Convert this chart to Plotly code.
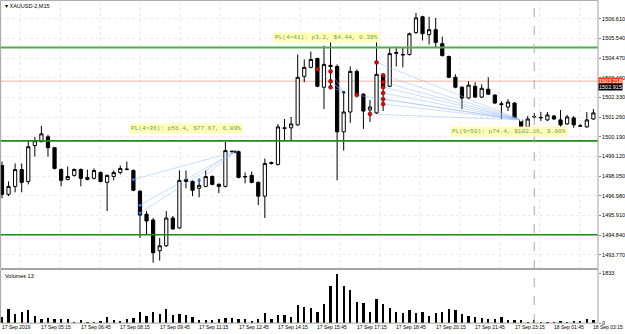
import plotly.graph_objects as go

# ---------------- data ----------------
bars = list(range(91))
opens = [1498.63,1497.06,1497.49,1498.41,1497.76,1499.71,1499.92,1500.19,1499.60,1498.41,
         1497.87,1498.09,1498.41,1497.87,1497.93,1498.25,1497.71,1498.03,1498.25,1498.41,
         1498.36,1497.23,1495.98,1495.66,1493.99,1494.26,1495.77,1495.23,1497.87,1497.76,
         1497.39,1497.49,1498.03,1497.60,1497.49,1499.38,1499.38,1498.03,1498.09,1497.71,
         1496.96,1498.79,1498.68,1500.68,1500.68,1500.84,1503.48,1503.97,1504.45,1502.89,
         1504.08,1504.02,1500.46,1501.54,1503.75,1502.51,1501.65,1501.49,1503.54,1502.94,
         1504.78,1504.67,1504.67,1505.86,1506.72,1505.75,1506.02,1505.26,1504.56,1503.43,
         1502.89,1502.30,1502.94,1502.35,1502.78,1502.46,1501.99,1501.81,1502.03,1501.11,
         1500.73,1501.27,1501.22,1501.11,1501.32,1501.11,1500.89,1501.22,1500.79,1500.73,
         1501.16]
highs = [1498.84,1497.76,1498.74,1498.74,1499.98,1500.19,1500.79,1500.30,1499.60,1498.47,
         1498.57,1498.47,1498.47,1498.41,1498.47,1498.30,1498.14,1498.36,1498.63,1498.84,
         1498.41,1497.28,1496.15,1495.77,1494.69,1496.15,1495.88,1498.36,1498.36,1497.82,
         1497.93,1498.36,1498.09,1497.66,1499.92,1499.44,1499.44,1498.25,1498.30,1497.76,
         1499.01,1498.84,1500.89,1501.16,1501.27,1504.67,1504.40,1504.83,1504.50,1505.15,
         1505.37,1504.13,1502.67,1504.02,1503.86,1502.57,1502.19,1505.75,1503.59,1505.05,
         1505.10,1505.05,1505.86,1506.93,1506.78,1506.72,1506.66,1505.64,1504.61,1503.59,
         1502.94,1503.21,1503.16,1503.05,1503.43,1502.51,1502.13,1502.24,1502.08,1501.16,
         1501.32,1501.49,1501.54,1501.54,1501.38,1501.65,1501.38,1501.32,1500.89,1501.54,
         1501.70]
lows = [1496.85,1496.96,1497.17,1497.17,1497.60,1499.11,1499.92,1499.11,1498.41,1497.49,
        1497.82,1498.03,1497.49,1497.82,1497.87,1497.71,1496.15,1497.82,1498.14,1498.36,
        1497.23,1494.69,1494.85,1493.34,1493.45,1494.20,1495.12,1495.18,1497.39,1496.96,
        1496.90,1497.44,1497.55,1497.12,1497.44,1499.28,1497.93,1497.66,1497.66,1496.47,
        1495.77,1498.68,1498.63,1499.98,1499.98,1500.79,1503.16,1503.92,1502.89,1501.70,
        1502.83,1497.82,1499.44,1500.95,1502.40,1500.62,1501.00,1501.43,1501.59,1502.89,
        1504.02,1503.97,1504.61,1505.80,1505.43,1505.21,1505.05,1504.56,1503.38,1502.83,
        1501.70,1502.24,1502.30,1502.30,1502.46,1501.97,1501.16,1501.59,1501.16,1500.68,
        1500.68,1501.16,1501.05,1501.05,1501.11,1500.68,1500.84,1500.68,1500.73,1500.68,
        1501.11]
closes = [1497.06,1497.49,1498.41,1497.71,1499.65,1499.98,1500.35,1499.60,1498.47,1497.82,
          1498.03,1498.41,1497.93,1497.98,1498.36,1497.76,1498.09,1498.25,1498.47,1498.43,
          1497.28,1495.93,1495.61,1493.88,1494.26,1495.77,1495.18,1497.82,1497.76,1497.28,
          1497.55,1498.03,1497.60,1497.49,1499.44,1499.40,1497.98,1498.01,1497.71,1496.96,
          1498.74,1498.74,1500.73,1500.65,1500.89,1503.43,1503.97,1504.40,1502.94,1504.13,
          1504.02,1500.46,1501.54,1503.75,1502.46,1501.59,1501.81,1503.59,1502.94,1504.72,
          1504.74,1504.65,1505.80,1506.66,1505.80,1506.02,1505.32,1504.61,1503.43,1502.89,
          1502.30,1503.00,1502.35,1502.83,1502.51,1502.03,1501.95,1502.08,1501.22,1500.73,
          1501.16,1501.29,1501.24,1501.38,1501.16,1500.84,1501.27,1500.84,1500.77,1501.11,
          1501.49]
volumes = [245,550,342,440,489,281,159,220,183,183,
           183,73,122,73,73,98,257,134,98,183,
           220,440,281,428,367,526,318,367,318,257,
           122,122,122,183,220,196,183,159,98,183,
           404,183,318,318,257,672,611,562,440,709,
           1383,1833,1406,1236,795,771,440,917,709,562,
           440,404,489,379,440,281,379,440,526,501,
           342,281,257,196,159,183,257,134,122,122,
           73,147,73,73,73,110,37,98,98,159,
           122]

price_ticks = [1506.61,1505.54,1504.47,1503.40,1502.33,1501.26,1500.19,
               1499.12,1498.05,1496.98,1495.91,1494.84,1493.77]
time_tick_bars = [0,6,12,18,24,30,36,42,48,54,60,66,72,78,84,90]
time_tick_labels = ["17 Sep 2019","17 Sep 05:15","17 Sep 06:45","17 Sep 08:15",
                    "17 Sep 09:45","17 Sep 11:15","17 Sep 12:45","17 Sep 14:15",
                    "17 Sep 15:45","17 Sep 17:15","17 Sep 18:45","17 Sep 20:15",
                    "17 Sep 21:45","17 Sep 23:15","18 Sep 01:45","18 Sep 03:15"]
green_levels = [1505.05, 1499.97, 1494.86]
ask_price = 1503.218
bid_price = 1502.915
vol_max = 1833
day_separator_bar = 81

# position fans: entries (bar, price) -> exit (bar, price)
fan1_entry_bars = [20, 21, 21, 30]
fan1_entry_prices = [1497.87, 1496.47, 1496.04, 1497.82]
fan1_exit = (35.5, 1499.38)
fan2_entry_bars = [48, 50, 50, 50]
fan2_entry_prices = [1503.86, 1503.75, 1503.21, 1502.89]
fan2_exit = (52, 1502.62)
fan3_entry_bars = [54, 56, 57, 58, 58, 58, 58, 58, 58]
fan3_entry_prices = [1502.46, 1501.43, 1504.24, 1503.54, 1503.16, 1502.89, 1502.57, 1502.24, 1501.97]
fan3_exit = (79, 1501.11)

pl_labels = ["PL(4>36): p56.4, $77.67, 6.89%",
             "PL(4>41): p3.2, $4.44, 0.39%",
             "PL(9>50): p74.4, $102.16, 9.06%"]
pl_label_pos = [(19.3, 1500.62), (41.2, 1505.59), (68.2, 1500.46)]

# ---------------- figure ----------------
W, H = 625, 334
XR = 598 / W
main_dom = [1 - 271 / H, 1.0]
vol_dom = [1 - 326 / H, 1 - 272 / H]
FONT = "Liberation Sans"

fig = go.Figure()

def fan_xy(eb, ep, ex):
    xs, ys = [], []
    for b, p in zip(eb, ep):
        xs += [b, ex[0], None]
        ys += [p, ex[1], None]
    return xs, ys

for eb, ep, ex in [(fan1_entry_bars, fan1_entry_prices, fan1_exit),
                   (fan2_entry_bars, fan2_entry_prices, fan2_exit),
                   (fan3_entry_bars, fan3_entry_prices, fan3_exit)]:
    xs, ys = fan_xy(eb, ep, ex)
    fig.add_trace(go.Scatter(x=xs, y=ys, mode="lines",
                             line=dict(color="rgba(150,185,240,0.6)", width=0.8),
                             hoverinfo="skip", showlegend=False, xaxis="x", yaxis="y"))

fig.add_trace(go.Candlestick(
    x=bars, open=opens, high=highs, low=lows, close=closes,
    increasing=dict(line=dict(color="black", width=1), fillcolor="white"),
    decreasing=dict(line=dict(color="black", width=1), fillcolor="black"),
    whiskerwidth=0, showlegend=False, xaxis="x", yaxis="y"))

fig.add_trace(go.Scatter(x=fan1_entry_bars, y=fan1_entry_prices, mode="markers",
                         marker=dict(color="#3a6cf0", size=3), showlegend=False,
                         xaxis="x", yaxis="y", hoverinfo="skip"))
fig.add_trace(go.Scatter(x=fan2_entry_bars + fan3_entry_bars,
                         y=fan2_entry_prices + fan3_entry_prices, mode="markers",
                         marker=dict(color="#d01010", size=4, line=dict(color="#600000", width=0.5)),
                         showlegend=False, xaxis="x", yaxis="y", hoverinfo="skip"))
fig.add_trace(go.Scatter(x=[fan1_exit[0], fan2_exit[0]], y=[fan1_exit[1], fan2_exit[1]],
                         mode="markers", marker=dict(color="#203050", size=3),
                         showlegend=False, xaxis="x", yaxis="y", hoverinfo="skip"))
fig.add_trace(go.Scatter(x=[fan3_exit[0]], y=[fan3_exit[1]], mode="markers",
                         marker=dict(color="white", size=3), showlegend=False,
                         xaxis="x", yaxis="y", hoverinfo="skip"))

fig.add_trace(go.Bar(x=bars, y=volumes, width=0.34, marker=dict(color="black", line=dict(width=0)),
                     showlegend=False, xaxis="x2", yaxis="y2"))

shapes = []
for k in range(16):
    gx = 2.8 + 6.08 * k
    shapes.append(dict(type="line", xref="x", yref="paper", x0=gx, x1=gx,
                       y0=main_dom[0], y1=1, line=dict(color="#e6e6e6", width=1, dash="dot"),
                       layer="below"))
for i, lv in enumerate(green_levels):
    shapes.append(dict(type="line", xref="paper", yref="y", x0=0, x1=XR, y0=lv, y1=lv,
                       line=dict(color="#4fae4f" if i == 0 else "#1c8c1c", width=2 if i == 0 else 1.6)))
shapes.append(dict(type="line", xref="paper", yref="y", x0=0, x1=XR, y0=ask_price, y1=ask_price,
                   line=dict(color="#f6b09c", width=1), layer="below"))
shapes.append(dict(type="line", xref="x", yref="paper", x0=day_separator_bar, x1=day_separator_bar,
                   y0=vol_dom[0], y1=1, line=dict(color="#a8a8a8", width=1, dash="dash")))
shapes.append(dict(type="rect", xref="paper", yref="paper", x0=0.001, x1=XR, y0=main_dom[0], y1=0.999,
                   line=dict(color="#a0a0a0", width=1)))
shapes.append(dict(type="rect", xref="paper", yref="paper", x0=0.001, x1=XR, y0=vol_dom[0], y1=vol_dom[1],
                   line=dict(color="#a0a0a0", width=1)))

annotations = []
annotations.append(dict(xref="paper", yref="paper", x=0.004, y=0.997, xanchor="left", yanchor="top",
                        text="▾ XAUUSD-2,M15", showarrow=False,
                        font=dict(family=FONT, size=5.5, color="black")))
annotations.append(dict(xref="paper", yref="paper", x=0.004, y=vol_dom[1] - 0.004, xanchor="left",
                        yanchor="top", text="Volumes 13", showarrow=False,
                        font=dict(family=FONT, size=5.5, color="black")))
for b, t in zip(time_tick_bars, time_tick_labels):
    annotations.append(dict(xref="x", yref="paper", x=b - 0.3, y=-0.004, xanchor="left", yanchor="bottom",
                            text=t, showarrow=False, font=dict(family=FONT, size=5, color="black")))
for t, (bx, py) in zip(pl_labels, pl_label_pos):
    annotations.append(dict(xref="x", yref="y", x=bx, y=py, xanchor="left", yanchor="middle",
                            text=t, showarrow=False, bgcolor="#ffffb8", borderpad=1,
                            font=dict(family="Liberation Mono", size=6.1, color="#6e9a5e")))
annotations.append(dict(xref="paper", yref="y", x=XR, y=ask_price, xanchor="left", yanchor="middle",
                        text=f"{ask_price:.3f}", showarrow=False, bgcolor="#ff3c14", borderpad=0,
                        font=dict(family=FONT, size=5.5, color="white")))
annotations.append(dict(xref="paper", yref="y", x=XR, y=bid_price, xanchor="left", yanchor="middle",
                        text=f"{bid_price:.3f}", showarrow=False, bgcolor="black", borderpad=0,
                        font=dict(family=FONT, size=5.5, color="white")))

fig.update_layout(
    width=W, height=H, margin=dict(l=0, r=0, t=0, b=0),
    paper_bgcolor="white", plot_bgcolor="white",
    showlegend=False, shapes=shapes, annotations=annotations,
    xaxis=dict(domain=[0, XR], range=[-0.3, 90.7], showticklabels=False, showgrid=False,
               zeroline=False, rangeslider=dict(visible=False), anchor="y"),
    xaxis2=dict(domain=[0, XR], range=[-0.3, 90.7], showticklabels=False, showgrid=False,
                zeroline=False, anchor="y2", matches="x"),
    yaxis=dict(domain=main_dom, range=[1493.02, 1507.635], side="right", anchor="x",
               tickvals=price_ticks, ticktext=[f"{v:.3f}" for v in price_ticks],
               tickfont=dict(family=FONT, size=5.5, color="black"),
               ticks="outside", ticklen=2, tickcolor="#808080",
               showgrid=True, gridcolor="#ececec", griddash="dot", zeroline=False),
    yaxis2=dict(domain=vol_dom, range=[0, 1980], side="right", anchor="x2",
                tickvals=[0, vol_max], ticktext=["0", str(vol_max)],
                tickfont=dict(family=FONT, size=5.5, color="black"),
                ticks="outside", ticklen=2, tickcolor="#808080",
                showgrid=False, zeroline=False),
    bargap=0,
)

fig.write_html("out.html")
